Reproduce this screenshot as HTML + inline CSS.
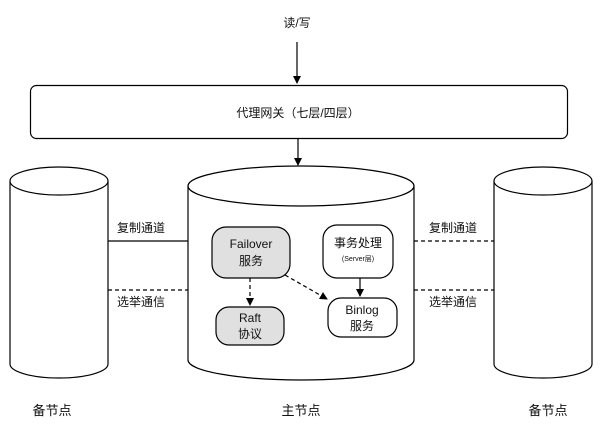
<!DOCTYPE html>
<html><head><meta charset="utf-8"><style>
body{margin:0;background:#fff;}
svg text{font-family:"Liberation Sans","Noto Sans CJK SC",sans-serif;fill:#111;}
</style></head><body>
<svg width="602" height="436" viewBox="0 0 602 436" xmlns="http://www.w3.org/2000/svg">
<defs>
<marker id="a" markerWidth="8" markerHeight="8" refX="7" refY="4" orient="auto" markerUnits="userSpaceOnUse"><path d="M0,0 L8,4 L0,8 z" fill="#000"/></marker>
</defs>
<g stroke="#000" stroke-width="1.2" fill="none">
<text x="297" y="27" font-size="12" text-anchor="middle" stroke="none">读/写</text>
<line x1="297" y1="42" x2="297" y2="83" marker-end="url(#a)"/>
<rect x="30.5" y="85.5" width="537" height="53" rx="6" fill="#fff"/>
<text x="298" y="117" font-size="12" text-anchor="middle" stroke="none">代理网关（七层/四层）</text>
<line x1="298" y1="138" x2="298" y2="165" marker-end="url(#a)"/>

<!-- center cylinder -->
<path d="M188,186 L188,360 A113,20 0 0 0 414,360 L414,186" fill="#fff"/>
<ellipse cx="301" cy="186" rx="113" ry="20" fill="#fff"/>
<!-- left cylinder -->
<path d="M10,181 L10,364 A49,14 0 0 0 108,364 L108,181" fill="#fff"/>
<ellipse cx="59" cy="181" rx="49" ry="14" fill="#fff"/>
<!-- right cylinder -->
<path d="M494,181 L494,364 A49,14 0 0 0 592,364 L592,181" fill="#fff"/>
<ellipse cx="543" cy="181" rx="49" ry="14" fill="#fff"/>

<line x1="108" y1="241" x2="188" y2="241"/>
<line x1="108" y1="290" x2="188" y2="290" stroke-dasharray="4,3"/>
<line x1="414" y1="241" x2="494" y2="241" stroke-dasharray="4,3"/>
<line x1="414" y1="290" x2="494" y2="290" stroke-dasharray="4,3"/>
<g stroke="none" font-size="12" text-anchor="middle">
<text x="141" y="232">复制通道</text>
<text x="141" y="306">选举通信</text>
<text x="453" y="232">复制通道</text>
<text x="453" y="306">选举通信</text>
<text x="52" y="415" font-size="13">备节点</text>
<text x="301" y="415" font-size="13">主节点</text>
<text x="548" y="415" font-size="13">备节点</text>
</g>

<rect x="212" y="227" width="78" height="51" rx="14" fill="#e0e0e0"/>
<text x="251" y="248" font-size="12" text-anchor="middle" stroke="none">Failover</text>
<text x="251" y="265" font-size="12" text-anchor="middle" stroke="none">服务</text>
<rect x="323" y="225" width="70" height="53" rx="14" fill="#fff"/>
<text x="358" y="247" font-size="12" text-anchor="middle" stroke="none">事务处理</text>
<text x="358" y="261" font-size="7" text-anchor="middle" stroke="none">(Server层)</text>
<rect x="328" y="298" width="69" height="39" rx="13" fill="#fff"/>
<text x="362" y="314" font-size="12" text-anchor="middle" stroke="none">Binlog</text>
<text x="362" y="330" font-size="12" text-anchor="middle" stroke="none">服务</text>
<rect x="216" y="307" width="68" height="38" rx="13" fill="#e0e0e0"/>
<text x="250" y="322" font-size="12" text-anchor="middle" stroke="none">Raft</text>
<text x="250" y="338" font-size="12" text-anchor="middle" stroke="none">协议</text>

<line x1="250" y1="278" x2="250" y2="305" stroke-dasharray="4,3" marker-end="url(#a)"/>
<line x1="285" y1="275" x2="327" y2="299" stroke-dasharray="4,3" marker-end="url(#a)"/>
<line x1="360" y1="278" x2="360" y2="296" marker-end="url(#a)"/>
</g>
</svg>
</body></html>
